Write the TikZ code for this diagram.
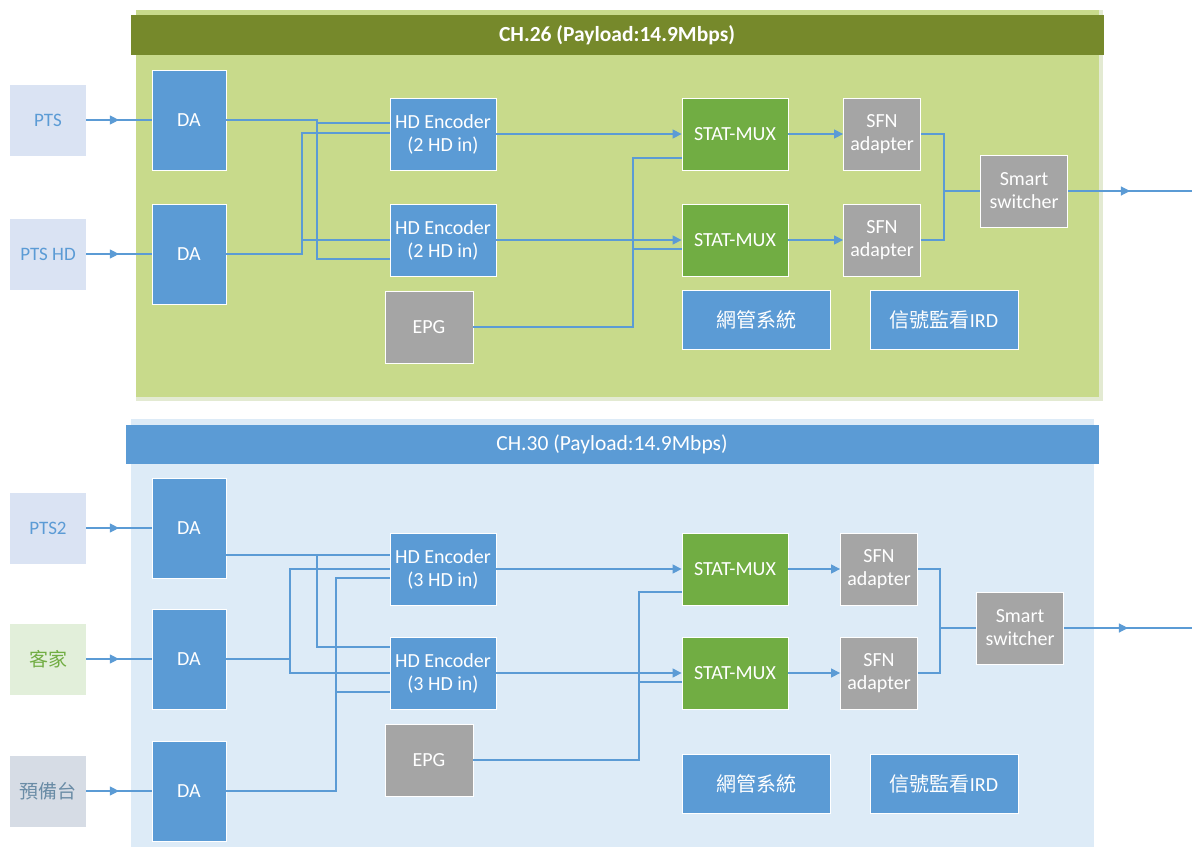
\documentclass[tikz,border=0pt]{standalone}
\usepackage{fontspec}
\setmainfont{Carlito}
\newfontfamily\cjk{Noto Sans CJK TC}
\usepackage{xcolor}
\usetikzlibrary{arrows.meta,decorations.markings,calc}

\definecolor{olivebar}{HTML}{76892B}
\definecolor{olivebg}{HTML}{C8DA8B}
\definecolor{olivesh}{HTML}{E3EAD2}
\definecolor{bluebg}{HTML}{DDEBF7}
\definecolor{boxblue}{HTML}{5B9BD5}
\definecolor{boxgreen}{HTML}{71AD43}
\definecolor{boxgray}{HTML}{A5A5A5}
\definecolor{srcblue}{HTML}{DAE3F3}
\definecolor{srcgreen}{HTML}{E2EFDA}
\definecolor{srcgray}{HTML}{D6DCE5}
\definecolor{srcgraytext}{HTML}{6A8CA6}

\begin{document}
\begin{tikzpicture}[x=1pt,y=-1pt,
  blk/.style={draw=white,line width=0.8pt,text=white,align=center,inner sep=0pt,
    font=\fontsize{20}{23}\selectfont},
  src/.style={inner sep=0pt,minimum width=76pt,minimum height=71pt,
    font=\fontsize{19}{23}\selectfont},
  da/.style={blk,fill=boxblue,minimum width=74pt,minimum height=100pt},
  enc/.style={blk,fill=boxblue,minimum width=106pt,minimum height=72pt},
  epg/.style={blk,fill=boxgray,minimum width=88pt,minimum height=72pt},
  mux/.style={blk,fill=boxgreen,minimum width=106pt,minimum height=72pt},
  sfn/.style={blk,fill=boxgray,minimum width=77pt,minimum height=72pt},
  swbox/.style={blk,fill=boxgray,minimum width=87pt,minimum height=72pt},
  mgmt/.style={blk,fill=boxblue,minimum width=148pt,minimum height=59pt},
  link/.style={draw=boxblue,line width=1.2pt},
  tip/.style={-{Triangle[length=9pt,width=9pt]}},
  midarrow/.style={postaction={decorate},decoration={markings,
    mark=at position 0.5 with {\arrow{Triangle[length=9pt,width=9pt]}}}},
  title/.style={text=white,font=\fontsize{21.5}{24}\selectfont}
]
\useasboundingbox (0,0) rectangle (1192,847);

% CH.26 panel
\fill[olivesh] (136,10) rectangle (1103,401);
\fill[olivebg] (136,10) rectangle (1099,397);
\fill[olivebar] (131,15) rectangle (1104,55);
\node[title] (ttl1) at (617,35) {\bfseries CH.26 (Payload:14.9Mbps)};

% CH.30 panel
\fill[bluebg] (131,419) rectangle (1094,847);
\fill[boxblue] (126,425) rectangle (1099,464);
\node[title] (ttl2) at (612,444) {CH.30 (Payload:14.9Mbps)};

% Sources
\node[src,fill=srcblue,text=boxblue] (pts) at (48,120) {PTS};
\node[src,fill=srcblue,text=boxblue] (ptshd) at (48,254) {PTS HD};
\node[src,fill=srcblue,text=boxblue] (pts2) at (48,528) {PTS2};
\node[src,fill=srcgreen,text=boxgreen] (hakka) at (48,659) {\cjk 客家};
\node[src,fill=srcgray,text=srcgraytext] (spare) at (48,791) {\cjk 預備台};

% CH.26 blocks
\node[da] (da1) at (189,120) {DA};
\node[da] (da2) at (189,254) {DA};
\node[enc] (enc1) at (443,134) {HD Encoder\\(2 HD in)};
\node[enc] (enc2) at (443,240) {HD Encoder\\(2 HD in)};
\node[epg] (epg1) at (429,327) {EPG};
\node[mux] (mux1) at (735,134) {STAT-MUX};
\node[mux] (mux2) at (735,240) {STAT-MUX};
\node[sfn] (sfn1) at (882,134) {SFN\\adapter};
\node[sfn] (sfn2) at (882,240) {SFN\\adapter};
\node[swbox] (sw1) at (1024,191) {Smart\\switcher};
\node[mgmt] (nms1) at (756,320) {\cjk 網管系統};
\node[mgmt] (ird1) at (944,320) {{\cjk 信號監看}IRD};
\coordinate (out1) at (1192,191);

% CH.30 blocks
\node[da] (da4) at (189,528) {DA};
\node[da] (da5) at (189,659) {DA};
\node[da] (da6) at (189,791) {DA};
\node[enc] (enc3) at (443,569) {HD Encoder\\(3 HD in)};
\node[enc] (enc4) at (443,673) {HD Encoder\\(3 HD in)};
\node[epg] (epg2) at (429,760) {EPG};
\node[mux] (mux3) at (735,569) {STAT-MUX};
\node[mux] (mux4) at (735,673) {STAT-MUX};
\node[sfn] (sfn3) at (879,569) {SFN\\adapter};
\node[sfn] (sfn4) at (879,673) {SFN\\adapter};
\node[swbox] (sw2) at (1020,628) {Smart\\switcher};
\node[mgmt] (nms2) at (756,784) {\cjk 網管系統};
\node[mgmt] (ird2) at (944,784) {{\cjk 信號監看}IRD};
\coordinate (out2) at (1192,628);

% Inputs
\draw[link,midarrow] (pts) -- (da1);
\draw[link,midarrow] (ptshd) -- (da2);
\draw[link,midarrow] (pts2) -- (da4);
\draw[link,midarrow] (hakka) -- (da5);
\draw[link,midarrow] (spare) -- (da6);

% CH.26 wiring
\draw[link] (da1.east) -| (317,123) -- (enc1.west |- 0,123);
\draw[link] (da1.east) -| (317,259) -- (enc2.west |- 0,259);
\draw[link] (da2.east) -| (302,133) -- (enc1.west |- 0,133);
\draw[link] (da2.east) -| (302,240) -- (enc2.west |- 0,240);
\draw[link,tip] (enc1) -- (mux1);
\draw[link,tip] (enc2) -- (mux2);
\draw[link] (epg1.east) -| (633,158) -- (mux1.west |- 0,158);
\draw[link] (epg1.east) -| (633,249) -- (mux2.west |- 0,249);
\draw[link,tip] (mux1) -- (sfn1);
\draw[link,tip] (mux2) -- (sfn2);
\draw[link] (sfn1.east) -| (944,191) -- (sw1.west);
\draw[link] (sfn2.east) -| (944,191) -- (sw1.west);
\draw[link,midarrow] (sw1.east) -- (out1);

% CH.30 wiring
\draw[link] (da4.east |- 0,555) -- (enc3.west |- 0,555);
\draw[link] (da4.east |- 0,555) -| (317,647) -- (enc4.west |- 0,647);
\draw[link] (da5.east) -| (290,569) -- (enc3.west |- 0,569);
\draw[link] (da5.east) -| (290,673) -- (enc4.west |- 0,673);
\draw[link] (da6.east) -| (336,578) -- (enc3.west |- 0,578);
\draw[link] (da6.east) -| (336,692) -- (enc4.west |- 0,692);
\draw[link,tip] (enc3) -- (mux3);
\draw[link,tip] (enc4) -- (mux4);
\draw[link] (epg2.east) -| (639,592) -- (mux3.west |- 0,592);
\draw[link] (epg2.east) -| (639,682) -- (mux4.west |- 0,682);
\draw[link,tip] (mux3) -- (sfn3);
\draw[link,tip] (mux4) -- (sfn4);
\draw[link] (sfn3.east) -| (940,628) -- (sw2.west);
\draw[link] (sfn4.east) -| (940,628) -- (sw2.west);
\draw[link,midarrow] (sw2.east) -- (out2);

\end{tikzpicture}
\end{document}
